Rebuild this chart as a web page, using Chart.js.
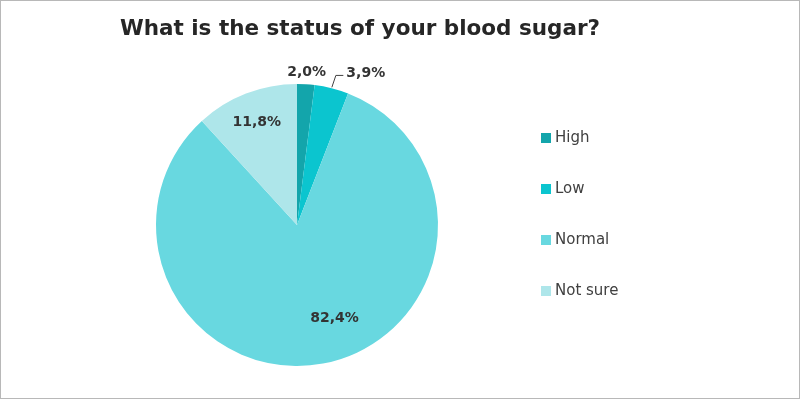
<!DOCTYPE html>
<html>
<head>
<meta charset="utf-8">
<script src="https://cdn.jsdelivr.net/npm/chart.js@4"></script>
<style>
  body { margin: 0; background: #fff; }
  #wrap { width: 800px; height: 399px; }
</style>
</head>
<body>
<div id="wrap"><canvas id="sugarChart" width="800" height="399"></canvas></div>
<script>
// Data
const categories = ['High', 'Low', 'Normal', 'Not sure'];
const shares = [2.0, 3.9, 82.4, 11.8];
const labelsText = ['2,0%', '3,9%', '82,4%', '11,8%'];
const sliceColors = ['#13a5ab', '#0bc5cf', '#68d8e0', '#aee6ea'];

// label placement: radius factor (of outer radius), then pixel nudges
const labelPlacement = [
    { r: 1.09, dx: 0, dy: 1 },
    { r: 1.12, dx: 30, dy: 1 },
    { r: 0.75, dx: 18, dy: -11 },
    { r: 0.79, dx: 0, dy: 1 }
];

const titleText = 'What is the status of your blood sugar?';

// Draws title, data labels, legend and frame
const decorPlugin = {
    id: 'decor',
    afterDraw(chart) {
        const ctx = chart.ctx;
        const meta = chart.getDatasetMeta(0);

        ctx.save();

        // frame
        ctx.strokeStyle = '#b8b8b8';
        ctx.lineWidth = 1;
        ctx.strokeRect(0.5, 0.5, 799, 398);

        // title
        ctx.fillStyle = '#262626';
        ctx.font = 'bold 21.5px "DejaVu Sans"';
        ctx.textAlign = 'center';
        ctx.textBaseline = 'middle';
        ctx.fillText(titleText, 360, 29);

        // data labels
        ctx.font = 'bold 14px "DejaVu Sans"';
        meta.data.forEach((arc, i) => {
            const p = arc.getProps(['x', 'y', 'startAngle', 'endAngle', 'outerRadius'], true);
            const mid = (p.startAngle + p.endAngle) / 2;
            const place = labelPlacement[i];
            const x = p.x + Math.cos(mid) * p.outerRadius * place.r + place.dx;
            const y = p.y + Math.sin(mid) * p.outerRadius * place.r + place.dy;
            ctx.fillStyle = '#333333';
            ctx.fillText(labelsText[i], x, y);

            // leader line for the small outside slice
            if (i === 1) {
                const ex = p.x + Math.cos(mid) * (p.outerRadius + 1);
                const ey = p.y + Math.sin(mid) * (p.outerRadius + 1);
                const w = ctx.measureText(labelsText[i]).width;
                ctx.strokeStyle = '#404040';
                ctx.beginPath();
                ctx.moveTo(ex, ey);
                ctx.lineTo(ex + 4, y + 2.5);
                ctx.lineTo(x - w / 2 - 3, y + 2.5);
                ctx.stroke();
            }
        });

        // legend
        ctx.font = '15px "DejaVu Sans"';
        ctx.textAlign = 'left';
        categories.forEach((name, i) => {
            const y = 138 + i * 51;
            ctx.fillStyle = sliceColors[i];
            ctx.fillRect(541, y - 5, 10, 10);
            ctx.fillStyle = '#404040';
            ctx.fillText(name, 555, y);
        });

        ctx.restore();
    }
};

function renderPie() {
    const ctx = document.getElementById('sugarChart').getContext('2d');

    new Chart(ctx, {
        type: 'pie',
        data: {
            labels: categories,
            datasets: [{
                data: shares,
                backgroundColor: sliceColors,
                borderWidth: 0
            }]
        },
        options: {
            responsive: false,
            animation: false,
            layout: {
                padding: { left: 156, right: 362, top: 84, bottom: 33 }
            },
            plugins: {
                legend: { display: false },
                title: { display: false },
                tooltip: { enabled: false }
            }
        },
        plugins: [decorPlugin]
    });
}

document.addEventListener('DOMContentLoaded', renderPie);
</script>
</body>
</html>
